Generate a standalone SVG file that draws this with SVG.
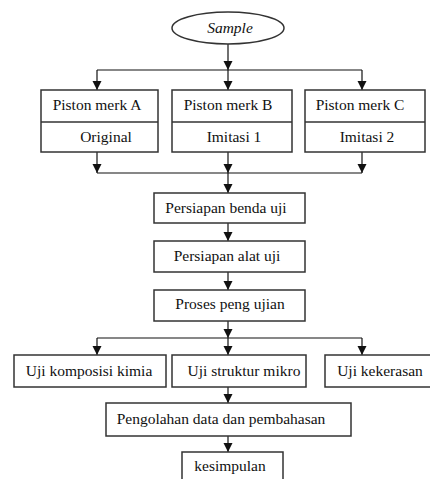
<svg xmlns="http://www.w3.org/2000/svg" width="430" height="479" viewBox="0 0 430 479">
<style>
.box{fill:#fff;stroke:#333;stroke-width:1.5}
.t{font-family:'Liberation Serif','DejaVu Serif',serif;font-size:15.5px;fill:#111;text-anchor:middle}
.c{fill:none;stroke:#111;stroke-width:1.2}
.d{stroke:#333;stroke-width:1.5}
</style>
<defs>
<marker id="ah" markerWidth="9" markerHeight="10" refX="9" refY="4.5" orient="auto" markerUnits="userSpaceOnUse">
<path d="M0,0 L9,4.5 L0,9 Z" fill="#111"/>
</marker>
</defs>
<rect width="430" height="479" fill="#fff"/>
<g id="connectors">
<path class="c" d="M228,44 V70" marker-end="url(#ah)"/>
<path class="c" d="M97,70 H362"/>
<path class="c" d="M97,70 V90" marker-end="url(#ah)"/>
<path class="c" d="M228,70 V90" marker-end="url(#ah)"/>
<path class="c" d="M362,70 V90" marker-end="url(#ah)"/>
<path class="c" d="M97,152 V173" marker-end="url(#ah)"/>
<path class="c" d="M228,152 V173" marker-end="url(#ah)"/>
<path class="c" d="M362,152 V173" marker-end="url(#ah)"/>
<path class="c" d="M97,173 H362"/>
<path class="c" d="M228,173 V193" marker-end="url(#ah)"/>
<path class="c" d="M228,223 V241" marker-end="url(#ah)"/>
<path class="c" d="M228,272 V290" marker-end="url(#ah)"/>
<path class="c" d="M228,321 V338" marker-end="url(#ah)"/>
<path class="c" d="M97,338 H362"/>
<path class="c" d="M97,338 V355" marker-end="url(#ah)"/>
<path class="c" d="M228,338 V355" marker-end="url(#ah)"/>
<path class="c" d="M362,338 V355" marker-end="url(#ah)"/>
<path class="c" d="M228,387 V403" marker-end="url(#ah)"/>
<path class="c" d="M228,436 V452" marker-end="url(#ah)"/>
</g>
<g id="sample">
<ellipse class="box" cx="228" cy="28" rx="56" ry="16"/>
<text class="t" x="230" y="33" font-style="italic">Sample</text>
</g>
<g id="pistonA">
<rect class="box" x="41" y="90" width="117" height="62"/>
<line class="d" x1="41" y1="122" x2="158" y2="122"/>
<text class="t" x="97" y="110">Piston merk A</text>
<text class="t" x="106" y="142">Original</text>
</g>
<g id="pistonB">
<rect class="box" x="172" y="90" width="120" height="62"/>
<line class="d" x1="172" y1="122" x2="292" y2="122"/>
<text class="t" x="228" y="110">Piston merk B</text>
<text class="t" x="234" y="142">Imitasi 1</text>
</g>
<g id="pistonC">
<rect class="box" x="305" y="90" width="120" height="62"/>
<line class="d" x1="305" y1="122" x2="425" y2="122"/>
<text class="t" x="360" y="110">Piston merk C</text>
<text class="t" x="367" y="142">Imitasi 2</text>
</g>
<g id="benda">
<rect class="box" x="154" y="193" width="151" height="30"/>
<text class="t" x="226" y="213">Persiapan benda uji</text>
</g>
<g id="alat">
<rect class="box" x="154" y="241" width="151" height="31"/>
<text class="t" x="227" y="261">Persiapan alat uji</text>
</g>
<g id="proses">
<rect class="box" x="154" y="290" width="151" height="31"/>
<text class="t" x="230" y="309">Proses peng ujian</text>
</g>
<g id="komposisi">
<rect class="box" x="14" y="355" width="152" height="32"/>
<text class="t" x="89" y="376">Uji komposisi kimia</text>
</g>
<g id="struktur">
<rect class="box" x="172" y="355" width="134" height="32"/>
<text class="t" x="244" y="376">Uji struktur mikro</text>
</g>
<g id="kekerasan">
<rect class="box" x="325" y="355" width="110" height="32"/>
<text class="t" x="380" y="376">Uji kekerasan</text>
</g>
<g id="pengolahan">
<rect class="box" x="106" y="403" width="245" height="33"/>
<text class="t" x="221" y="424">Pengolahan data dan pembahasan</text>
</g>
<g id="kesimpulan">
<rect class="box" x="182" y="452" width="101" height="32"/>
<text class="t" x="230" y="471">kesimpulan</text>
</g>
</svg>
